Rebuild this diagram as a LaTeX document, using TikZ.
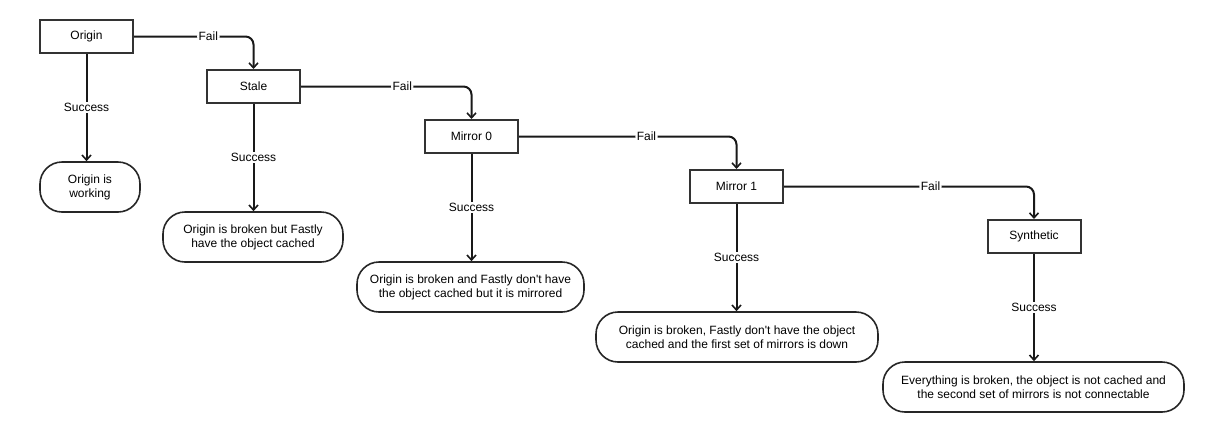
\documentclass[tikz,border=0pt]{standalone}
\usepackage{fontspec}
\setmainfont{Liberation Sans}
\usetikzlibrary{arrows.meta,calc}
\begin{document}
\begin{tikzpicture}[x=1pt,y=-1pt,
  txt/.style={font=\fontsize{12}{14}\selectfont},
  stepbox/.style={txt, draw=black!80, line width=2pt, minimum width=93pt, minimum height=33pt, inner sep=0pt},
  endbox/.style={txt, draw=black!85, line width=1.6pt, rounded corners=22pt, minimum height=50pt, align=center, inner sep=0pt},
  flow/.style={draw=black!90, line width=2pt, -{Straight Barb[length=5pt,width=9pt,line width=1.6pt]}},
  lbl/.style={txt, fill=white, inner sep=1.5pt}]
\useasboundingbox (0,0) rectangle (1208,432);
\node[stepbox] (origin) at (86.5,36.5) {Origin};
\node[stepbox] (stale) at (253.5,86.5) {Stale};
\node[stepbox] (m0) at (471.5,136.5) {Mirror 0};
\node[stepbox] (m1) at (736.5,186.5) {Mirror 1};
\node[stepbox] (syn) at (1034,236.5) {Synthetic};
\node[endbox, minimum width=100pt] (e0) at (90,187) {Origin is\\working};
\node[endbox, minimum width=180pt] (e1) at (253,237) {Origin is broken but Fastly\\have the object cached};
\node[endbox, minimum width=227pt] (e2) at (470.5,287) {Origin is broken and Fastly don\textquotesingle t have\\the object cached but it is mirrored};
\node[endbox, minimum width=282pt] (e3) at (737,337) {Origin is broken, Fastly don\textquotesingle t have the object\\cached and the first set of mirrors is down};
\node[endbox, minimum width=301pt] (e4) at (1033.5,387) {Everything is broken, the object is not cached and\\the second set of mirrors is not connectable};
\draw[flow] (origin.south) -- node[lbl]{Success} (origin.south |- e0.north);
\draw[flow] (stale.south) -- node[lbl]{Success} (stale.south |- e1.north);
\draw[flow] (m0.south) -- node[lbl]{Success} (m0.south |- e2.north);
\draw[flow] (m1.south) -- node[lbl]{Success} (m1.south |- e3.north);
\draw[flow] (syn.south) -- node[lbl]{Success} (syn.south |- e4.north);
\draw[flow, rounded corners=8pt] (origin.east) -| node[lbl, pos=0.311]{Fail} (stale.north);
\draw[flow, rounded corners=8pt] (stale.east) -| node[lbl, pos=0.297]{Fail} (m0.north);
\draw[flow, rounded corners=8pt] (m0.east) -| node[lbl, pos=0.293]{Fail} (m1.north);
\draw[flow, rounded corners=8pt] (m1.east) -| node[lbl, pos=0.293]{Fail} (syn.north);
\end{tikzpicture}
\end{document}
